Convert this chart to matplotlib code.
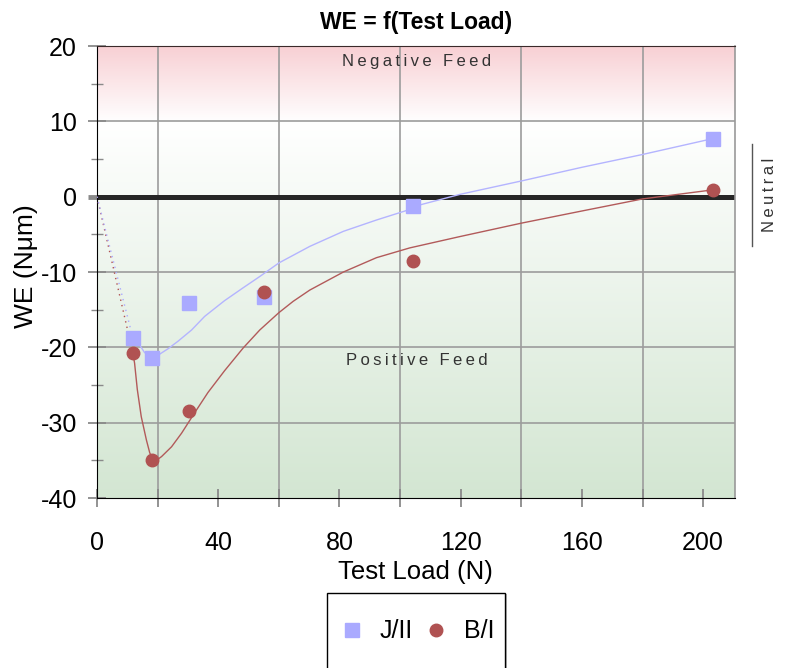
import matplotlib.pyplot as plt
from matplotlib.colors import LinearSegmentedColormap
from matplotlib.patches import Rectangle
from matplotlib.lines import Line2D
import numpy as np

plt.rcParams['font.family'] = ['Liberation Sans', 'DejaVu Sans']
plt.rcParams['axes.unicode_minus'] = False

# Measured WE values per test load
load_j = [11.8, 18.0, 30.3, 55.0, 104.2, 203.1]
we_j = [-18.7, -21.4, -14.1, -13.3, -1.2, 7.7]
load_b = [11.8, 18.0, 30.3, 55.0, 104.2, 203.1]
we_b = [-20.7, -34.9, -28.4, -12.6, -8.5, 0.9]

# Trend curves (sampled)
trend_j_x = [11.9, 14.1, 15.7, 18.2, 20.7, 23.4, 26.7, 31.2, 35.5, 42.1, 48.2, 53.7,
             60.0, 70.2, 81.3, 92.2, 103.2, 106.5, 119.7, 140.2, 160.0, 180.0, 203.1]
trend_j_y = [-18.8, -19.7, -20.7, -21.2, -20.9, -20.2, -19.2, -17.7, -15.9, -13.8, -12.1, -10.6,
             -8.8, -6.6, -4.6, -3.1, -1.7, -1.1, 0.3, 2.1, 3.9, 5.6, 7.7]
trend_b_x = [11.8, 12.4, 13.3, 14.6, 16.3, 17.4, 18.2, 19.6, 21.3, 24.6, 27.9, 32.2,
             36.6, 42.1, 48.2, 53.7, 60.0, 64.7, 70.2, 81.3, 92.2, 103.2, 109.8,
             119.7, 140.2, 160.0, 180.0, 203.1]
trend_b_y = [-20.7, -22.1, -25.6, -29.2, -32.3, -34.0, -34.7, -35.0, -34.5, -33.2, -31.4, -28.7,
             -26.0, -23.1, -20.1, -17.7, -15.4, -13.9, -12.4, -10.0, -8.1, -6.8, -6.2,
             -5.3, -3.5, -1.9, -0.3, 0.9]

x_ticks = [0, 40, 80, 120, 160, 200]
x_grid = [20, 60, 100, 140, 180]
y_ticks = [20, 10, 0, -10, -20, -30, -40]
y_grid = [10, -10, -20, -30]

col_j = '#aaaaff'
col_b = '#b05252'

W, H = 792, 668
fig = plt.figure(figsize=(W / 100, H / 100), dpi=100)
ax = fig.add_axes([97 / W, 1 - 498 / H, (735 - 97) / W, (498 - 46) / H])
ax.set_xlim(0, 210.5)
ax.set_ylim(-40, 20)

# background: red band on top, green below
feed_cmap = LinearSegmentedColormap.from_list(
    'feed', [(0.0, '#d3e6d2'), (50 / 60, '#ffffff'), (1.0, '#f8d0d4')])
ax.imshow(np.linspace(0, 1, 256).reshape(-1, 1), cmap=feed_cmap, origin='lower',
          extent=[0, 210.5, -40, 20], aspect='auto', zorder=0)

for v in x_grid:
    ax.axvline(v, color='#9c9c9c', lw=1.2, zorder=1)
for v in y_grid:
    ax.axhline(v, color='#9c9c9c', lw=1.2, zorder=1)
ax.axhline(0, color='#262626', lw=3.6, zorder=2)

# trends + dotted lead-in from origin
ax.plot([0, load_b[0]], [0, we_b[0]], color=col_b, lw=1, ls=(0, (1, 3)), zorder=3)
ax.plot([0, load_j[0]], [0, we_j[0]], color=col_j, lw=1, ls=(0, (1, 3)), zorder=3)
ax.plot(trend_j_x, trend_j_y, color='#b4b4ff', lw=1, zorder=3)
ax.plot(trend_b_x, trend_b_y, color='#b25a5a', lw=1, zorder=3)

ax.plot(load_j, we_j, 's', ms=10, color=col_j, ls='none', label='J/II', zorder=4)
ax.plot(load_b, we_b, 'o', ms=9, color=col_b, ls='none', label='B/I', zorder=5)


def spaced(s):
    # widen the tracking a little
    return '\u2009 \u2009'.join('\u2009'.join(w) for w in s.split(' '))


ax.text(105.5, 17.9, spaced('Negative Feed'), ha='center', va='center',
        fontsize=12, color='#333333', zorder=6)
ax.text(105.5, -21.8, spaced('Positive Feed'), ha='center', va='center',
        fontsize=12, color='#333333', zorder=6)

# axes frame and ticks
ax.spines['left'].set_color('black')
ax.spines['bottom'].set_color('black')
ax.spines['top'].set_color('#3a2a2a')
ax.spines['top'].set_linewidth(0.8)
ax.spines['right'].set_color('#999999')
ax.spines['right'].set_linewidth(1.2)

ax.set_xticks(x_ticks)
ax.set_xticks(x_grid, minor=True)
ax.set_yticks(y_ticks)
ax.set_yticks([15, 5, -5, -15, -25, -35], minor=True)
ax.tick_params(axis='both', which='major', direction='inout', length=13, width=1.3,
               color='#8a8a8a', labelsize=18)
ax.tick_params(axis='x', which='major', pad=17)
ax.tick_params(axis='y', which='major', pad=8)
ax.tick_params(axis='x', which='minor', direction='inout', length=13, width=1.3, color='#8a8a8a')
ax.tick_params(axis='y', which='minor', direction='inout', length=8, width=1, color='#8a8a8a')
# heavier tick at the zero line
ax.yaxis.get_major_ticks()[y_ticks.index(0)].tick1line.set_markeredgewidth(3.5)

fig.text(416 / W, 1 - 22 / H, 'WE = f(Test Load)', fontsize=16.5, weight='bold',
         ha='center', va='center')
fig.text(415 / W, 1 - 572 / H, 'Test Load (N)', fontsize=18.5, ha='center', va='center')
fig.text(26 / W, 1 - 266 / H, 'WE (N\u03bcm)', fontsize=19, rotation=90,
         ha='center', va='center')

# neutral marker on the right
fig.add_artist(Line2D([752 / W, 752 / W], [1 - 144 / H, 1 - 246 / H], color='#555555', lw=1))
fig.text(770 / W, 1 - 195 / H, spaced('Neutral'), fontsize=12, rotation=90,
         ha='center', va='center', color='#333333')

# legend box
fig.add_artist(Rectangle((329 / W, -0.05), (505 - 327) / W, 0.05 + 1 - 594 / H,
                         transform=fig.transFigure, facecolor='#bbbbbb', edgecolor='none'))
fig.add_artist(Rectangle((327 / W, -0.05), (505 - 327) / W, 0.05 + 1 - 592.5 / H,
                         transform=fig.transFigure, facecolor='white', edgecolor='black', lw=1))
fig.legend(*ax.get_legend_handles_labels(), loc='center', bbox_to_anchor=(418 / W, 1 - 631.5 / H),
           frameon=False, ncol=2, fontsize=18, handlelength=0.8, handletextpad=0.7,
           columnspacing=0.55)

fig.savefig('out.png', dpi=100)
